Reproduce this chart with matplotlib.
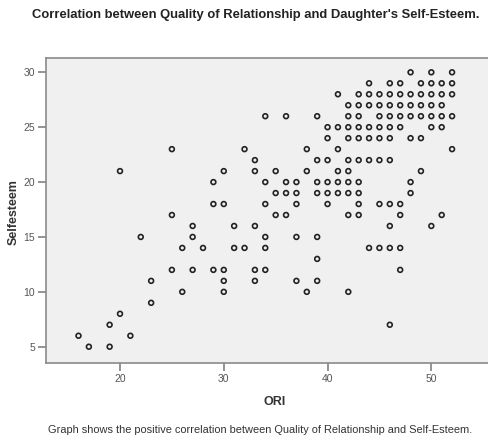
import matplotlib
matplotlib.use("Agg")
import matplotlib.pyplot as plt

# ---- data (ORI vs Selfesteem), row by row ----
ori = [48, 50, 52,
       44, 46, 47, 49, 50, 51, 52,
       41, 43, 44, 45, 46, 47, 48, 49, 50, 51, 52,
       42, 43, 44, 45, 46, 47, 48, 49, 50, 51,
       34, 36, 39, 42, 43, 45, 46, 47, 48, 49, 50, 51, 52,
       40, 41, 42, 43, 44, 45, 46, 47, 50, 51,
       40, 42, 43, 44, 45, 46, 48, 49,
       25, 32, 38, 41, 52,
       33, 39, 40, 42, 43, 44, 45, 46,
       20, 30, 33, 35, 38, 41, 42, 49,
       29, 34, 36, 37, 39, 40, 41, 42, 43, 48,
       35, 36, 37, 39, 40, 41, 42, 43, 48,
       29, 30, 34, 37, 40, 43, 45, 46, 47,
       25, 35, 36, 42, 43, 47, 51,
       27, 31, 33, 46, 50,
       22, 27, 34, 37, 39,
       26, 28, 31, 32, 34, 44, 45, 46, 47,
       39,
       25, 27, 29, 30, 33, 34, 47,
       23, 30, 33, 37, 39,
       26, 30, 38, 42,
       23,
       20,
       19, 46,
       16, 21,
       17, 19]
selfesteem = ([30] * 3 + [29] * 7 + [28] * 11 + [27] * 10 + [26] * 13 +
              [25] * 10 + [24] * 8 + [23] * 5 + [22] * 8 + [21] * 8 +
              [20] * 10 + [19] * 9 + [18] * 9 + [17] * 7 + [16] * 5 +
              [15] * 5 + [14] * 9 + [13] * 1 + [12] * 7 + [11] * 5 +
              [10] * 4 + [9] * 1 + [8] * 1 + [7] * 2 + [6] * 2 + [5] * 2)

x_ticks = [20, 30, 40, 50]
y_ticks = [5, 10, 15, 20, 25, 30]

title = "Correlation between Quality of Relationship and Daughter's Self-Esteem."
caption = "Graph shows the positive correlation between Quality of Relationship and Self-Esteem."

# first installed one wins; Liberation Sans has Arial metrics
narrow = ["Liberation Sans Narrow", "DejaVu Sans Condensed", "Liberation Sans", "DejaVu Sans"]

# ========================== Plot ==========================
fig = plt.figure(figsize=(4.88, 4.40), dpi=100)
fig.patch.set_facecolor("white")

# axes runs off the right edge of the picture, like the cropped original
ax = fig.add_axes([45.7 / 488, 76.7 / 440, (505 - 45.7) / 488, 305.6 / 440])
ax.set_facecolor("#f0f0f0")

ax.scatter(ori, selfesteem, s=12, facecolors="none", edgecolors="#222222",
           linewidths=1.2, zorder=3)

ax.set_xlim(12.84, 57.1)
ax.set_ylim(3.49, 31.33)
ax.set_xticks(x_ticks)
ax.set_yticks(y_ticks)

for side in ["left", "bottom", "top", "right"]:
    ax.spines[side].set_color("#8a8a8a")
    ax.spines[side].set_linewidth(1.2)

ax.tick_params(axis="both", direction="out", length=6, width=1.1,
               color="#777777", labelcolor="#555555", labelsize=7.5, pad=1.5)
for lbl in ax.get_xticklabels() + ax.get_yticklabels():
    lbl.set_family(narrow)

fig.text(256 / 488, 0.966, title, ha="center", va="center", fontsize=9.4,
         fontweight="bold", color="#222222", family=narrow)
fig.text(275 / 488, 1 - 402 / 440, "ORI", ha="center", va="center",
         fontsize=9, fontweight="bold", color="#333333", family=narrow)
fig.text(13.3 / 488, 1 - 211.7 / 440, "Selfesteem", ha="center", va="center",
         rotation=90, fontsize=9, fontweight="bold", color="#333333", family=narrow)
fig.text(260.5 / 488, 1 - 430 / 440, caption, ha="center", va="center",
         fontsize=7.9, color="#333333", family=narrow)

plt.savefig("out.png", dpi=100)
